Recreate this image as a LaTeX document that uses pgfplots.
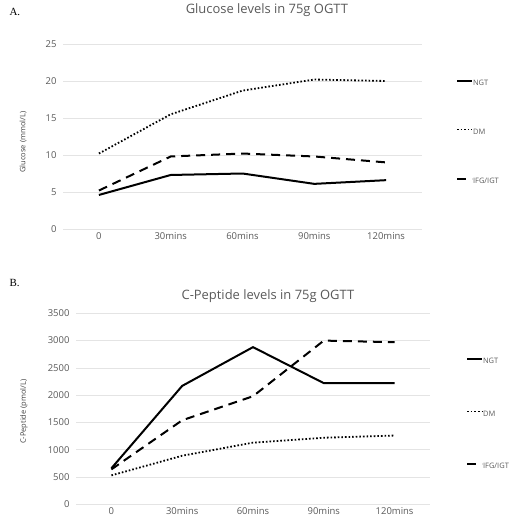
\documentclass[border=0pt]{standalone}
\usepackage{fontspec}
\setmainfont{Open Sans}
\newfontfamily\panelfont{Liberation Serif}
\usepackage{pgfplots}
\pgfplotsset{compat=1.18}

\definecolor{txtgray}{HTML}{595959}
\definecolor{labgray}{HTML}{404040}
\definecolor{gridgray}{HTML}{E4E4E4}

\pgfplotsset{
  ogtt/.style={
    scale only axis,
    axis line style={draw=none},
    tick style={draw=none},
    xmin=-0.5, xmax=4.5, ymin=0,
    xtick={0,1,2,3,4},
    xticklabels={0,30mins,60mins,90mins,120mins},
    ymajorgrids,
    grid style={gridgray, line width=0.7bp},
    ticklabel style={font=\fontsize{9.5}{11}\selectfont, text=txtgray},
    yticklabel style={xshift=-3bp},
    /pgf/number format/assume math mode=true,
    /pgf/number format/1000 sep={},
    ylabel style={font=\fontsize{7.5}{9}\selectfont, text=labgray, anchor=center},
    title style={font=\fontsize{13}{15}\selectfont, text=txtgray, anchor=center},
    legend style={draw=none, fill=none, anchor=west,
      font=\fontsize{7.5}{9}\selectfont, text=txtgray,
      nodes={inner sep=0pt, text height=6bp, text depth=1bp},
      column sep=0bp},
    legend cell align=left,
    legend image code/.code={\draw[##1] (0bp,2.5bp) -- (15bp,2.5bp);},
    clip=false,
  },
  ngt/.style={black, line width=2bp},
  dm/.style={black, line width=1.8bp, dash pattern=on 1.6bp off 2bp},
  ifg/.style={black, line width=2bp, dash pattern=on 9bp off 6bp},
}

\begin{document}
\begin{tikzpicture}
\path[use as bounding box] (0,0) rectangle (511bp,-525bp);

\node[font=\panelfont\fontsize{11}{13}\selectfont, anchor=west] at (6bp,-12bp) {A.};
\node[font=\panelfont\fontsize{11}{13}\selectfont, anchor=west] at (6bp,-283bp) {B.};

% Panel A: glucose
\begin{axis}[ogtt,
  at={(63bp,-229bp)}, anchor=south west,
  width=359bp, height=185bp,
  ymax=25, ytick={0,5,10,15,20,25},
  ylabel={Glucose (mmol/L)},
  ylabel style={at={(axis description cs:-0.111,0.47)}},
  title={Glucose levels in 75g OGTT},
  title style={at={(axis description cs:0.568,1.152)}},
  legend style={at={(axis description cs:1.086,0.524)}, row sep=42bp},
]
\addplot[ngt] coordinates {(0,4.6) (1,7.3) (2,7.5) (3,6.1) (4,6.6)};
\addlegendentry{NGT}
\addplot[dm] coordinates {(0,10.2) (1,15.5) (2,18.7) (3,20.2) (4,20.0)};
\addlegendentry{DM}
\addplot[ifg] coordinates {(0,5.2) (1,9.8) (2,10.2) (3,9.8) (4,9.0)};
\addlegendentry{IFG/IGT}
\end{axis}

% Panel B: C-peptide
\begin{axis}[ogtt,
  at={(76bp,-504.3bp)}, anchor=south west,
  width=354bp, height=191bp,
  ymax=3500, ytick={0,500,1000,1500,2000,2500,3000,3500},
  ylabel={C-Peptide (pmol/L)},
  ylabel style={at={(axis description cs:-0.147,0.485)}},
  title={C-Peptide levels in 75g OGTT},
  title style={at={(axis description cs:0.542,1.056)}},
  legend style={at={(axis description cs:1.093,0.473)}, row sep=45.5bp},
]
\addplot[ngt] coordinates {(0,660) (1,2170) (2,2880) (3,2220) (4,2220)};
\addlegendentry{NGT}
\addplot[dm] coordinates {(0,530) (1,890) (2,1130) (3,1220) (4,1260)};
\addlegendentry{DM}
\addplot[ifg] coordinates {(0,640) (1,1540) (2,1980) (3,3000) (4,2970)};
\addlegendentry{IFG/IGT}
\end{axis}
\end{tikzpicture}
\end{document}
